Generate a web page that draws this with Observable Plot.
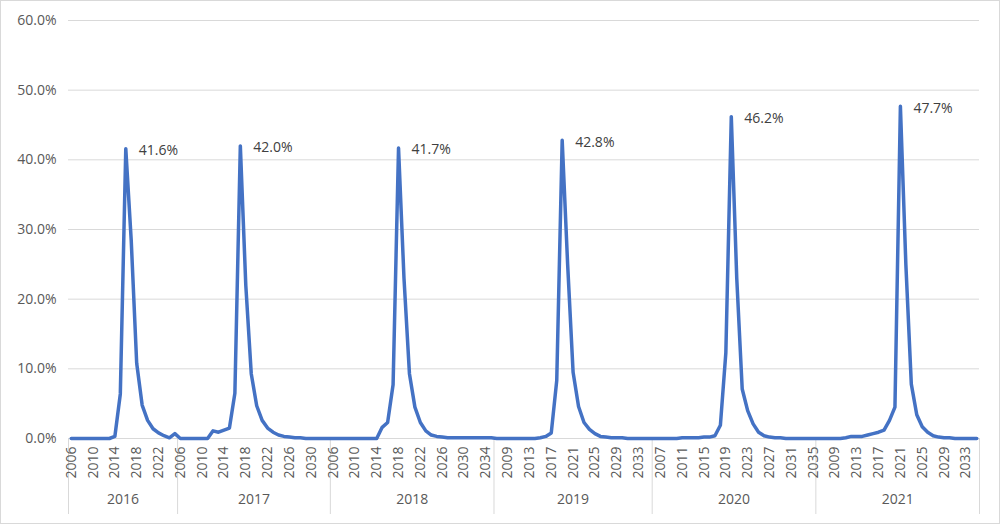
<!DOCTYPE html>
<html>
<head>
<meta charset="utf-8">
<script src="https://cdn.jsdelivr.net/npm/d3@7"></script>
<script src="https://cdn.jsdelivr.net/npm/@observablehq/plot@0.6"></script>
<style>
  html, body { margin: 0; padding: 0; background: #fff; }
  #chart svg { display: block; outline: 1px solid #d9d9d9; outline-offset: -1px; }
</style>
</head>
<body>
<div id="chart"></div>
<script>
// Outer categories
const groups = ["2016", "2017", "2018", "2019", "2020", "2021"];

// Inner categories per group
const years2016 = [2006,2007,2008,2009,2010,2011,2012,2013,2014,2015,2016,2017,2018,2019,2020,2021,2022,2023,2024,2025];
const years2017 = [2006,2007,2008,2009,2010,2011,2012,2013,2014,2015,2016,2017,2018,2019,2020,2021,2022,2023,2024,2025,2026,2027,2028,2029,2030,2031,2032,2033];
const years2018 = [2006,2007,2008,2009,2010,2011,2012,2013,2014,2015,2016,2017,2018,2019,2020,2021,2022,2023,2024,2025,2026,2027,2028,2029,2030,2031,2032,2033,2034,2035];
const years2019 = [2007,2008,2009,2010,2011,2012,2013,2014,2015,2016,2017,2018,2019,2020,2021,2022,2023,2024,2025,2026,2027,2028,2029,2030,2031,2032,2033,2034,2035];
const years2020 = [2006,2007,2008,2009,2010,2011,2012,2013,2014,2015,2016,2017,2018,2019,2020,2021,2022,2023,2024,2025,2026,2027,2028,2029,2030,2031,2032,2033,2034,2035];
const years2021 = [2006,2007,2008,2009,2010,2011,2012,2013,2014,2015,2016,2017,2018,2019,2020,2021,2022,2023,2024,2025,2026,2027,2028,2029,2030,2031,2032,2033,2034,2035];

// Series values (percent)
const values2016 = [0,0,0,0,0,0,0,0,0.3,6.4,41.6,28.4,10.8,4.8,2.6,1.4,0.8,0.4,0.1,0.7];
const values2017 = [0,0,0,0,0,0,1.1,0.9,1.2,1.5,6.5,42.0,22.0,9.3,4.7,2.6,1.5,0.9,0.5,0.3,0.2,0.1,0.1,0,0,0,0,0];
const values2018 = [0,0,0,0,0,0,0,0,0,1.6,2.3,7.7,41.7,23.0,9.3,4.5,2.3,1.1,0.5,0.3,0.2,0.1,0.1,0.1,0.1,0.1,0.1,0.1,0.1,0.1];
const values2019 = [0,0,0,0,0,0,0,0,0.1,0.3,0.8,8.3,42.8,25.0,9.5,4.6,2.3,1.3,0.7,0.3,0.2,0.1,0.1,0.1,0,0,0,0,0];
const values2020 = [0,0,0,0,0,0.1,0.1,0.1,0.1,0.2,0.2,0.4,1.9,12.3,46.2,23.0,7.1,4.0,2.1,0.9,0.4,0.2,0.1,0.1,0,0,0,0,0,0];
const values2021 = [0,0,0,0,0,0.1,0.3,0.3,0.3,0.5,0.7,0.9,1.2,2.6,4.5,47.7,25.0,7.8,3.4,1.7,0.9,0.4,0.2,0.1,0.1,0,0,0,0,0];

const yTicks = [0, 10, 20, 30, 40, 50, 60];

const innerYears = [years2016, years2017, years2018, years2019, years2020, years2021];
const seriesValues = [values2016, values2017, values2018, values2019, values2020, values2021];

// Build table
const rows = [];
const groupInfo = [];
let idx = 0;
groups.forEach((g, gi) => {
  const start = idx;
  const ys = innerYears[gi], vs = seriesValues[gi];
  const maxV = d3.max(vs);
  ys.forEach((y, k) => {
    rows.push({i: idx, group: g, year: y, value: vs[k], peak: vs[k] === maxV});
    idx++;
  });
  groupInfo.push({group: g, start, end: idx - 1});
});
const n = idx;
const labelOf = new Map(rows.map(d => [d.i, String(d.year)]));
const innerTicks = d3.range(0, n, 4);
const boundaries = [-0.5, ...groupInfo.map(d => d.end + 0.5)];
const centers = groupInfo.map(d => (d.start + d.end) / 2);
const centerLabel = new Map(groupInfo.map((d, j) => [centers[j], d.group]));

const chart = Plot.plot({
  width: 1000,
  height: 524,
  marginLeft: 68,
  marginRight: 21,
  marginTop: 20,
  marginBottom: 86,
  style: {fontFamily: "'Open Sans', sans-serif", fontSize: "14px", background: "#fff", overflow: "visible"},
  x: {domain: [-0.5, n - 0.5], axis: null, label: null},
  y: {domain: [0, 60], axis: null, label: null},
  marks: [
    Plot.gridY(yTicks, {stroke: "#d9d9d9", strokeOpacity: 1, strokeWidth: 1}),
    Plot.axisY({ticks: yTicks, tickFormat: d => d.toFixed(1) + "%", tickSize: 0, tickPadding: 12, fill: "#595959", fontSize: 14, label: null}),
    Plot.axisX({ticks: boundaries, tickFormat: () => "", tickSize: 76, stroke: "#d9d9d9", strokeOpacity: 1, label: null}),
    Plot.axisX({ticks: innerTicks, tickFormat: i => labelOf.get(i), tickRotate: -90, tickSize: 0, tickPadding: 8, fill: "#595959", fontSize: 14, label: null}),
    Plot.axisX({ticks: centers, tickFormat: c => centerLabel.get(c), tickSize: 0, tickPadding: 56, fill: "#595959", fontSize: 14, label: null}),
    Plot.line(rows, {x: "i", y: "value", stroke: "#4472c4", strokeWidth: 3.5, strokeLinejoin: "round", strokeLinecap: "round"}),
    Plot.text(rows.filter(d => d.peak), {x: "i", y: "value", text: d => d.value.toFixed(1) + "%", dx: 13, dy: 2, textAnchor: "start", fill: "#404040", fontSize: 14})
  ]
});
document.getElementById("chart").append(chart);
</script>
</body>
</html>
